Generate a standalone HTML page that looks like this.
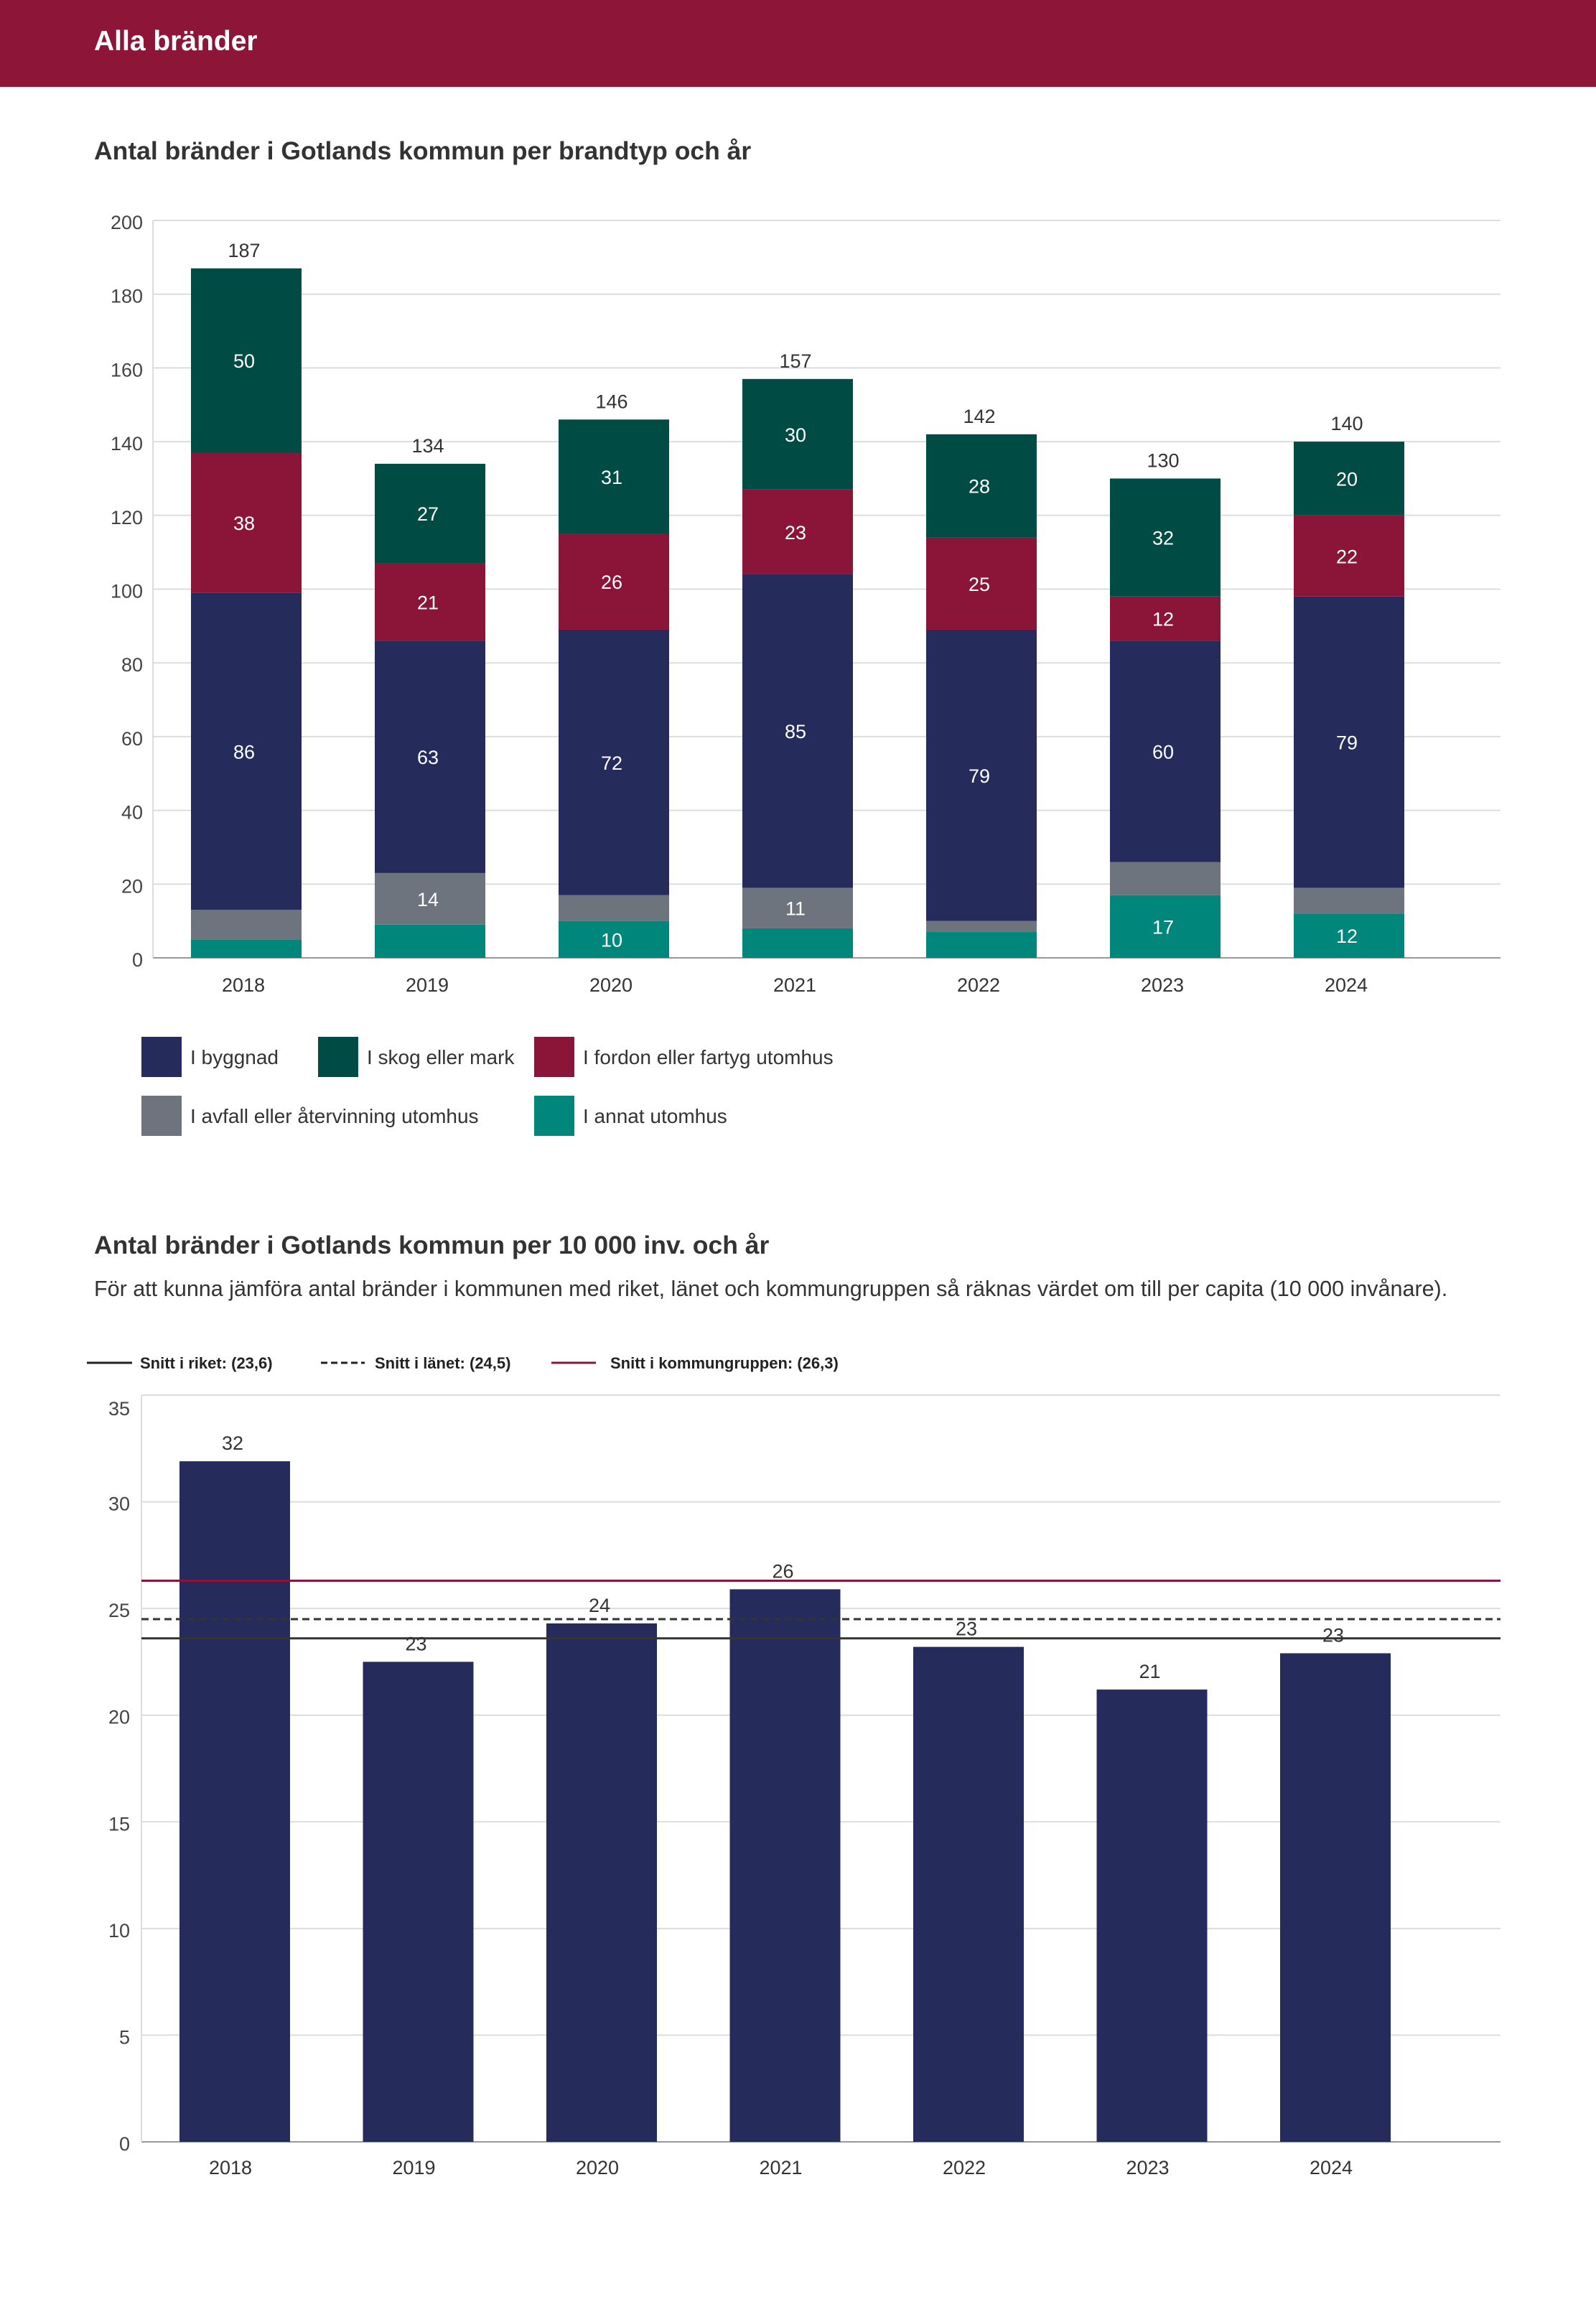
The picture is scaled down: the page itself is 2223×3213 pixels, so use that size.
<!DOCTYPE html>
<html><head><meta charset="utf-8"><style>
html,body{margin:0;padding:0;background:#fff;}
svg{display:block;font-family:"Liberation Sans",sans-serif;}
</style></head><body>
<svg id="page" width="2223" height="3213" viewBox="0 0 2223 3213" xmlns="http://www.w3.org/2000/svg">
<rect x="0" y="0" width="2223" height="121" fill="#8c1538"/>
<text x="131" y="70" font-size="39" font-weight="bold" fill="#fff">Alla bränder</text>
<text x="131" y="222" font-size="35.5" font-weight="bold" fill="#333">Antal bränder i Gotlands kommun per brandtyp och år</text>
<g id="c1"></g>
<g id="leg1"></g>
<text x="131" y="1746" font-size="35.5" font-weight="bold" fill="#333">Antal bränder i Gotlands kommun per 10 000 inv. och år</text>
<text x="131" y="1805" font-size="30.5" fill="#333">För att kunna jämföra antal bränder i kommunen med riket, länet och kommungruppen så räknas värdet om till per capita (10 000 invånare).</text>
<g id="leg2"></g>
<g id="c2"></g>
</svg>
<script>
const years = ["2018","2019","2020","2021","2022","2023","2024"];
const annat = [5,9,10,8,7,17,12];
const avfall = [8,14,7,11,3,9,7];
const byggnad = [86,63,72,85,79,60,79];
const fordon = [38,21,26,23,25,12,22];
const skog = [50,27,31,30,28,32,20];
const ticks1 = [0,20,40,60,80,100,120,140,160,180,200];
const perCapita = [31.9,22.5,24.3,25.9,23.2,21.2,22.9];
const perCapitaLabels = ["32","23","24","26","23","21","23"];
const ticks2 = [0,5,10,15,20,25,30,35];
const snittRiket = 23.6;
const snittLanet = 24.5;
const snittGrupp = 26.3;

const NS = "http://www.w3.org/2000/svg";
function mk(tag, attrs, parent, text){
  const e = document.createElementNS(NS, tag);
  for (const k in attrs) e.setAttribute(k, attrs[k]);
  if (text !== undefined) e.textContent = text;
  parent.appendChild(e);
  return e;
}
// chart 1
const c1 = document.getElementById('c1');
const y1 = v => 1334 - v * (1027/200);
const x1 = i => 343 + i * 256;
ticks1.forEach(t => {
  const l = mk('line', {x1:213, x2:2090, y1:y1(t), y2:y1(t), stroke: t===0?'#999':'#ddd', 'stroke-width':2}, c1);
  
  
  const tx = mk('text', {x:199, y:y1(t)+12, 'text-anchor':'end', 'font-size':27, fill:'#444'}, c1, String(t));
  
  
});
mk('line', {x1:213, x2:213, y1:y1(200), y2:y1(0), stroke:'#ddd', 'stroke-width':2}, c1);
const series = [
  {name:'annat', vals:annat, color:'#00867a'},
  {name:'avfall', vals:avfall, color:'#6e747d'},
  {name:'byggnad', vals:byggnad, color:'#252c5c'},
  {name:'fordon', vals:fordon, color:'#8b1538'},
  {name:'skog', vals:skog, color:'#004c45'}
];
years.forEach((yr, i) => {
  let base = 0;
  series.forEach(s => {
    const v = s.vals[i];
    const r = mk('rect', {x:x1(i)-77, width:154, y:y1(base+v), height:y1(base)-y1(base+v), fill:s.color}, c1);
    
    
    if (v >= 10) {
      const t = mk('text', {x:x1(i)-3, y:(y1(base)+y1(base+v))/2+10, 'text-anchor':'middle', 'font-size':27, fill:'#fff'}, c1, String(v));
      
      
    }
    base += v;
  });
  const tt = mk('text', {x:x1(i)-3, y:y1(base)-16, 'text-anchor':'middle', 'font-size':27, fill:'#333'}, c1, String(base));
  
  
  const xl = mk('text', {x:x1(i)-4, y:1381, 'text-anchor':'middle', 'font-size':27, fill:'#333'}, c1, yr);
  
  
});
// legend 1
const leg1 = document.getElementById('leg1');
const legItems = [
  ['I byggnad','#252c5c',197,1444],
  ['I skog eller mark','#004c45',443,1444],
  ['I fordon eller fartyg utomhus','#8b1538',744,1444],
  ['I avfall eller återvinning utomhus','#6e747d',197,1526],
  ['I annat utomhus','#00867a',744,1526]
];
legItems.forEach(it => {
  const r = mk('rect', {x:it[2], y:it[3], width:56, height:56, fill:it[1]}, leg1);
  
  
  const t = mk('text', {x:it[2]+68, y:it[3]+38, 'font-size':28, fill:'#333'}, leg1, it[0]);
  
  
});
// legend 2
const leg2 = document.getElementById('leg2');
mk('line', {x1:121, x2:184, y1:1898, y2:1898, stroke:'#222', 'stroke-width':3}, leg2);
mk('text', {x:195, y:1906, 'font-size':22, 'font-weight':'bold', fill:'#222'}, leg2, 'Snitt i riket: (23,6)');
mk('line', {x1:447, x2:508, y1:1898, y2:1898, stroke:'#222', 'stroke-width':3, 'stroke-dasharray':'9,5'}, leg2);
mk('text', {x:522, y:1906, 'font-size':22, 'font-weight':'bold', fill:'#222'}, leg2, 'Snitt i länet: (24,5)');
mk('line', {x1:768, x2:830, y1:1898, y2:1898, stroke:'#8b1538', 'stroke-width':3}, leg2);
mk('text', {x:850, y:1906, 'font-size':22, 'font-weight':'bold', fill:'#222'}, leg2, 'Snitt i kommungruppen: (26,3)');
// chart 2
const c2 = document.getElementById('c2');
const y2 = v => 2983 - v * (1040/35);
const x2 = i => 327 + i * 255.5;
ticks2.forEach(t => {
  const l = mk('line', {x1:197, x2:2090, y1:y2(t), y2:y2(t), stroke: t===0?'#999':'#ddd', 'stroke-width':2}, c2);
  
  
  const tx = mk('text', {x:181, y:y2(t)+ (t===35?28:12), 'text-anchor':'end', 'font-size':27, fill:'#444'}, c2, String(t));
  
  
});
mk('line', {x1:197, x2:197, y1:y2(35), y2:y2(0), stroke:'#ddd', 'stroke-width':2}, c2);
years.forEach((yr, i) => {
  const r = mk('rect', {x:x2(i)-77, width:154, y:y2(perCapita[i]), height:y2(0)-y2(perCapita[i]), fill:'#252c5c'}, c2);
  
  
  const t = mk('text', {x:x2(i)-3, y:y2(perCapita[i])-16, 'text-anchor':'middle', 'font-size':27, fill:'#333'}, c2, perCapitaLabels[i]);
  
  
  const xl = mk('text', {x:x2(i)-6, y:3028, 'text-anchor':'middle', 'font-size':27, fill:'#333'}, c2, yr);
  
  
});
const lr = mk('line', {x1:197, x2:2090, y1:y2(snittRiket), y2:y2(snittRiket), stroke:'#333', 'stroke-width':3}, c2);


const ll = mk('line', {x1:197, x2:2090, y1:y2(snittLanet), y2:y2(snittLanet), stroke:'#333', 'stroke-width':3, 'stroke-dasharray':'10,6'}, c2);


const lg = mk('line', {x1:197, x2:2090, y1:y2(snittGrupp), y2:y2(snittGrupp), stroke:'#8b1538', 'stroke-width':3}, c2);


</script>
</body></html>
